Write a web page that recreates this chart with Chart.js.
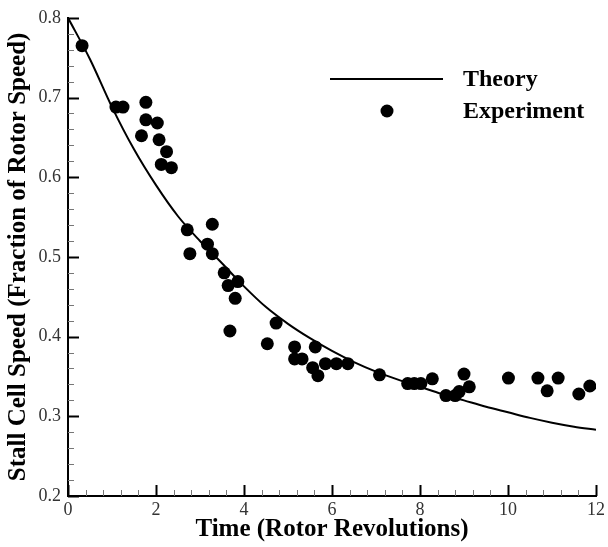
<!DOCTYPE html>
<html>
<head>
<meta charset="utf-8">
<script src="https://cdn.jsdelivr.net/npm/chart.js@4.4.0/dist/chart.umd.min.js"></script>
<style>
  html, body { margin: 0; padding: 0; background: #fff; }
  #wrap { width: 608px; height: 547px; }
</style>
</head>
<body>
<div id="wrap"><canvas id="chart"></canvas></div>
<script>
// Theory curve
const theoryT = [0, 0.5, 1, 1.5, 2, 2.5, 3, 3.5, 4, 4.5, 5, 5.5, 6, 6.5, 7, 7.5, 8, 8.5, 9, 9.5, 10, 10.5, 11, 11.5, 12];
const theoryY = [0.800, 0.748, 0.688, 0.635, 0.590, 0.551, 0.520, 0.492, 0.463, 0.437, 0.416, 0.398, 0.382, 0.368, 0.356, 0.346, 0.337, 0.328, 0.320, 0.312, 0.305, 0.298, 0.292, 0.287, 0.283];

// Experiment points
const expT = [0.32, 1.09, 1.25, 1.77, 1.77, 2.03, 1.67, 2.07, 2.24, 2.12, 2.35,
  2.71, 3.28, 2.77, 3.17, 3.28, 3.55, 3.64, 3.86, 3.80, 3.68, 4.73, 4.53,
  5.15, 5.62, 5.15, 5.32, 5.56, 5.68, 5.85, 6.10, 6.36,
  7.08, 7.72, 7.87, 8.02, 8.28, 9.00, 9.12, 8.89, 8.59, 8.80,
  10.01, 10.68, 11.14, 10.89, 11.61, 11.86];
const expY = [0.765, 0.688, 0.688, 0.694, 0.672, 0.668, 0.652, 0.647, 0.632, 0.616, 0.612,
  0.534, 0.541, 0.504, 0.516, 0.504, 0.480, 0.464, 0.469, 0.448, 0.407, 0.417, 0.391,
  0.387, 0.387, 0.372, 0.372, 0.361, 0.351, 0.366, 0.366, 0.366,
  0.352, 0.341, 0.341, 0.341, 0.347, 0.353, 0.337, 0.331, 0.326, 0.326,
  0.348, 0.348, 0.348, 0.332, 0.328, 0.338];

const xTicks = [0, 2, 4, 6, 8, 10, 12];
const yTicks = [0.2, 0.3, 0.4, 0.5, 0.6, 0.7, 0.8];
const legendLabels = ['Theory', 'Experiment'];

const serif = '"Liberation Serif", "DejaVu Serif", serif';

// ticks pointing into the plot, major + minor
const inwardTicks = {
  id: 'inwardTicks',
  afterDraw(chart) {
    const { ctx, chartArea: a, scales: { x, y } } = chart;
    ctx.save();
    for (let i = 0; i <= 30; i++) {
      const v = i * 0.4;
      const major = i % 5 === 0;
      const px = Math.round(x.getPixelForValue(v)) + 0.5;
      ctx.strokeStyle = major ? '#000' : '#777';
      ctx.lineWidth = major ? 2 : 1;
      ctx.beginPath();
      ctx.moveTo(px, a.bottom);
      ctx.lineTo(px, a.bottom - (major ? 11 : 6));
      ctx.stroke();
    }
    for (let i = 0; i <= 30; i++) {
      const v = 0.2 + i * 0.02;
      const major = i % 5 === 0;
      const py = Math.round(y.getPixelForValue(v)) + 0.5;
      ctx.strokeStyle = major ? '#000' : '#777';
      ctx.lineWidth = major ? 2 : 1;
      ctx.beginPath();
      ctx.moveTo(a.left, py);
      ctx.lineTo(a.left + (major ? 11 : 6), py);
      ctx.stroke();
    }
    ctx.restore();
  }
};

// legend: line + text, dot + text
const boxLegend = {
  id: 'boxLegend',
  afterDraw(chart) {
    const { ctx } = chart;
    ctx.save();
    ctx.strokeStyle = '#000';
    ctx.lineWidth = 2;
    ctx.beginPath();
    ctx.moveTo(330, 79);
    ctx.lineTo(443, 79);
    ctx.stroke();
    ctx.fillStyle = '#000';
    ctx.beginPath();
    ctx.arc(387, 111, 6.5, 0, Math.PI * 2);
    ctx.fill();
    ctx.font = 'bold 24px ' + serif;
    ctx.textBaseline = 'middle';
    ctx.textAlign = 'left';
    ctx.fillText(legendLabels[0], 463, 80);
    ctx.fillText(legendLabels[1], 463, 112);
    ctx.restore();
  }
};

new Chart(document.getElementById('chart'), {
  type: 'scatter',
  data: {
    datasets: [
      {
        label: legendLabels[0],
        type: 'line',
        data: theoryT.map((t, i) => ({ x: t, y: theoryY[i] })),
        borderColor: '#000',
        borderWidth: 2,
        pointRadius: 0,
        cubicInterpolationMode: 'monotone',
        fill: false
      },
      {
        label: legendLabels[1],
        data: expT.map((t, i) => ({ x: t, y: expY[i] })),
        backgroundColor: '#000',
        borderColor: '#000',
        borderWidth: 0,
        pointRadius: 6.5
      }
    ]
  },
  options: {
    responsive: true,
    maintainAspectRatio: false,
    animation: false,
    layout: { padding: { left: 0, top: 13, right: 11, bottom: 0 } },
    plugins: {
      legend: { display: false },
      tooltip: { enabled: false }
    },
    scales: {
      x: {
        type: 'linear',
        min: 0, max: 12,
        afterBuildTicks: s => { s.ticks = xTicks.map(v => ({ value: v })); },
        afterFit: s => { s.height = 51; },
        grid: { display: false, drawTicks: false },
        border: { display: true, color: '#000', width: 2 },
        ticks: { padding: 3, color: '#333', font: { family: serif, size: 18 }, maxRotation: 0 },
        title: { display: true, text: 'Time (Rotor Revolutions)', color: '#000', padding: { top: 0, bottom: 2 },
          font: { family: serif, size: 25, weight: 'bold' } }
      },
      y: {
        type: 'linear',
        min: 0.2, max: 0.8,
        afterBuildTicks: s => { s.ticks = yTicks.map(v => ({ value: v })); },
        afterFit: s => { s.width = 68; },
        grid: { display: false, drawTicks: false },
        border: { display: true, color: '#000', width: 2 },
        ticks: { padding: 7, color: '#333', font: { family: serif, size: 18 }, callback: v => v.toFixed(1) },
        title: { display: true, text: 'Stall Cell Speed (Fraction of Rotor Speed)', color: '#000', padding: { top: 4, bottom: 0 },
          font: { family: serif, size: 25, weight: 'bold' } }
      }
    }
  },
  plugins: [inwardTicks, boxLegend]
});
</script>
</body>
</html>
